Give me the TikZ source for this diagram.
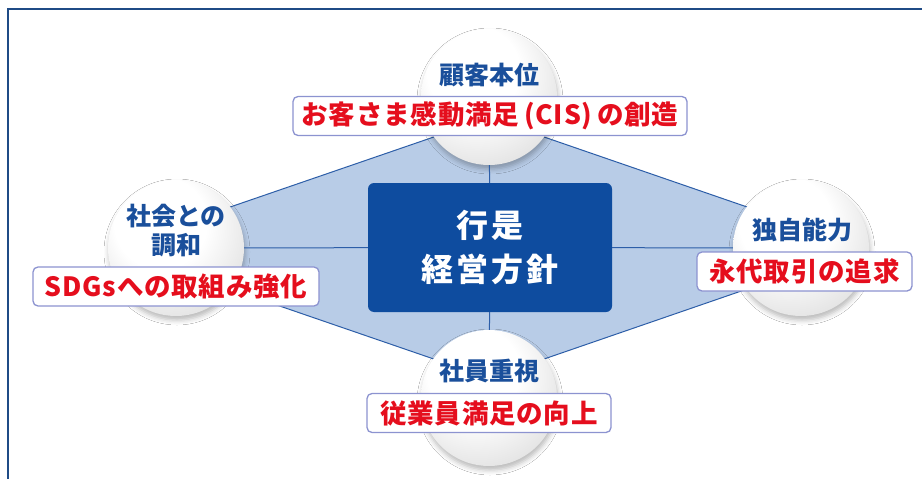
\documentclass[tikz,border=0pt]{standalone}
\usepackage{fontspec}
\setmainfont{Noto Sans CJK JP}
\newfontfamily\jpsp{Noto Sans CJK JP}[LetterSpace=3]
\newfontfamily\jpcore{Noto Sans CJK JP}[LetterSpace=10]
\usetikzlibrary{shadows.blur}
\definecolor{framec}{HTML}{1F4B86}
\definecolor{dfill}{HTML}{B8CCE7}
\definecolor{dline}{HTML}{2D5EA8}
\definecolor{coreblue}{HTML}{0E4C9F}
\definecolor{headblue}{HTML}{1A4F9B}
\definecolor{redtxt}{HTML}{E50E1D}
\definecolor{lav}{HTML}{8C93D0}
\pgfdeclareradialshading{ballish}{\pgfpoint{-8bp}{13bp}}{color(0bp)=(white); color(17bp)=(white); color(33bp)=(black!11); color(46bp)=(black!23); color(60bp)=(black!23)}
\tikzset{
  ball/.style={circle, minimum size=136pt, inner sep=0pt, shading=ballish,
    blur shadow={shadow xshift=1pt, shadow yshift=-4pt, shadow blur radius=5pt, shadow opacity=28}},
  corebox/.style={fill=coreblue, rounded corners=6pt, minimum width=244pt, minimum height=129pt, inner sep=0pt,
    text=white, align=center, font=\jpcore\bfseries\fontsize{32}{44}\selectfont},
  head/.style={text=headblue, align=center, font=\bfseries\fontsize{25}{29}\selectfont, inner sep=0pt},
  tag/.style={draw=lav, line width=1.3pt, fill=white, rounded corners=5pt, minimum height=39pt, inner sep=0pt,
    text=redtxt, font=\jpsp\bfseries\fontsize{26.5}{30}\selectfont},
  dedge/.style={draw=dline, line width=1pt},
  cross/.style={draw=dline, line width=1pt},
  framel/.style={draw=framec, line width=1.6pt}
}
\begin{document}
\begin{tikzpicture}[x=1pt,y=-1pt]
\useasboundingbox (0,0) rectangle (922,479);
\fill[white] (0,0) rectangle (922,479);
\draw[framel] (8,479) -- (8,9) -- (922,9);
% diamond
\coordinate (dT) at (489,118);
\coordinate (dR) at (866,248);
\coordinate (dB) at (489,378);
\coordinate (dL) at (111,248);
\fill[dfill] (dT) -- (dR) -- (dB) -- (dL) -- cycle;
\draw[dedge] (dT) -- (dR) -- (dB) -- (dL) -- cycle;
% circles
\node[ball] (top) at (489,97) {};
\node[ball] (left) at (176,248) {};
\node[ball] (right) at (801,248) {};
\node[ball] (bottom) at (489,398) {};
% core
\node[corebox] (core) at (490,247.5) {行是\\経営方針};
\draw[cross] (top) -- (core);
\draw[cross] (bottom) -- (core);
\draw[cross] (left) -- (core);
\draw[cross] (right) -- (core);
% headings
\node[head] (htop) at (489,75) {顧客本位};
\node[head] (hleft) at (176,231) {社会との\\調和};
\node[head] (hright) at (802,230) {独自能力};
\node[head] (hbottom) at (489,371) {社員重視};
% tags
\node[tag, minimum width=394pt] (ttop) at (490,116) {お客さま感動満足\hspace{5pt}(CIS)\hspace{5pt}の創造};
\node[tag, minimum width=286pt] (tleft) at (176,286.5) {SDGsへの取組み強化};
\node[tag, minimum width=215pt] (tright) at (804.5,271.5) {永代取引の追求};
\node[tag, minimum width=244pt] (tbottom) at (489,413) {従業員満足の向上};
\end{tikzpicture}
\end{document}
